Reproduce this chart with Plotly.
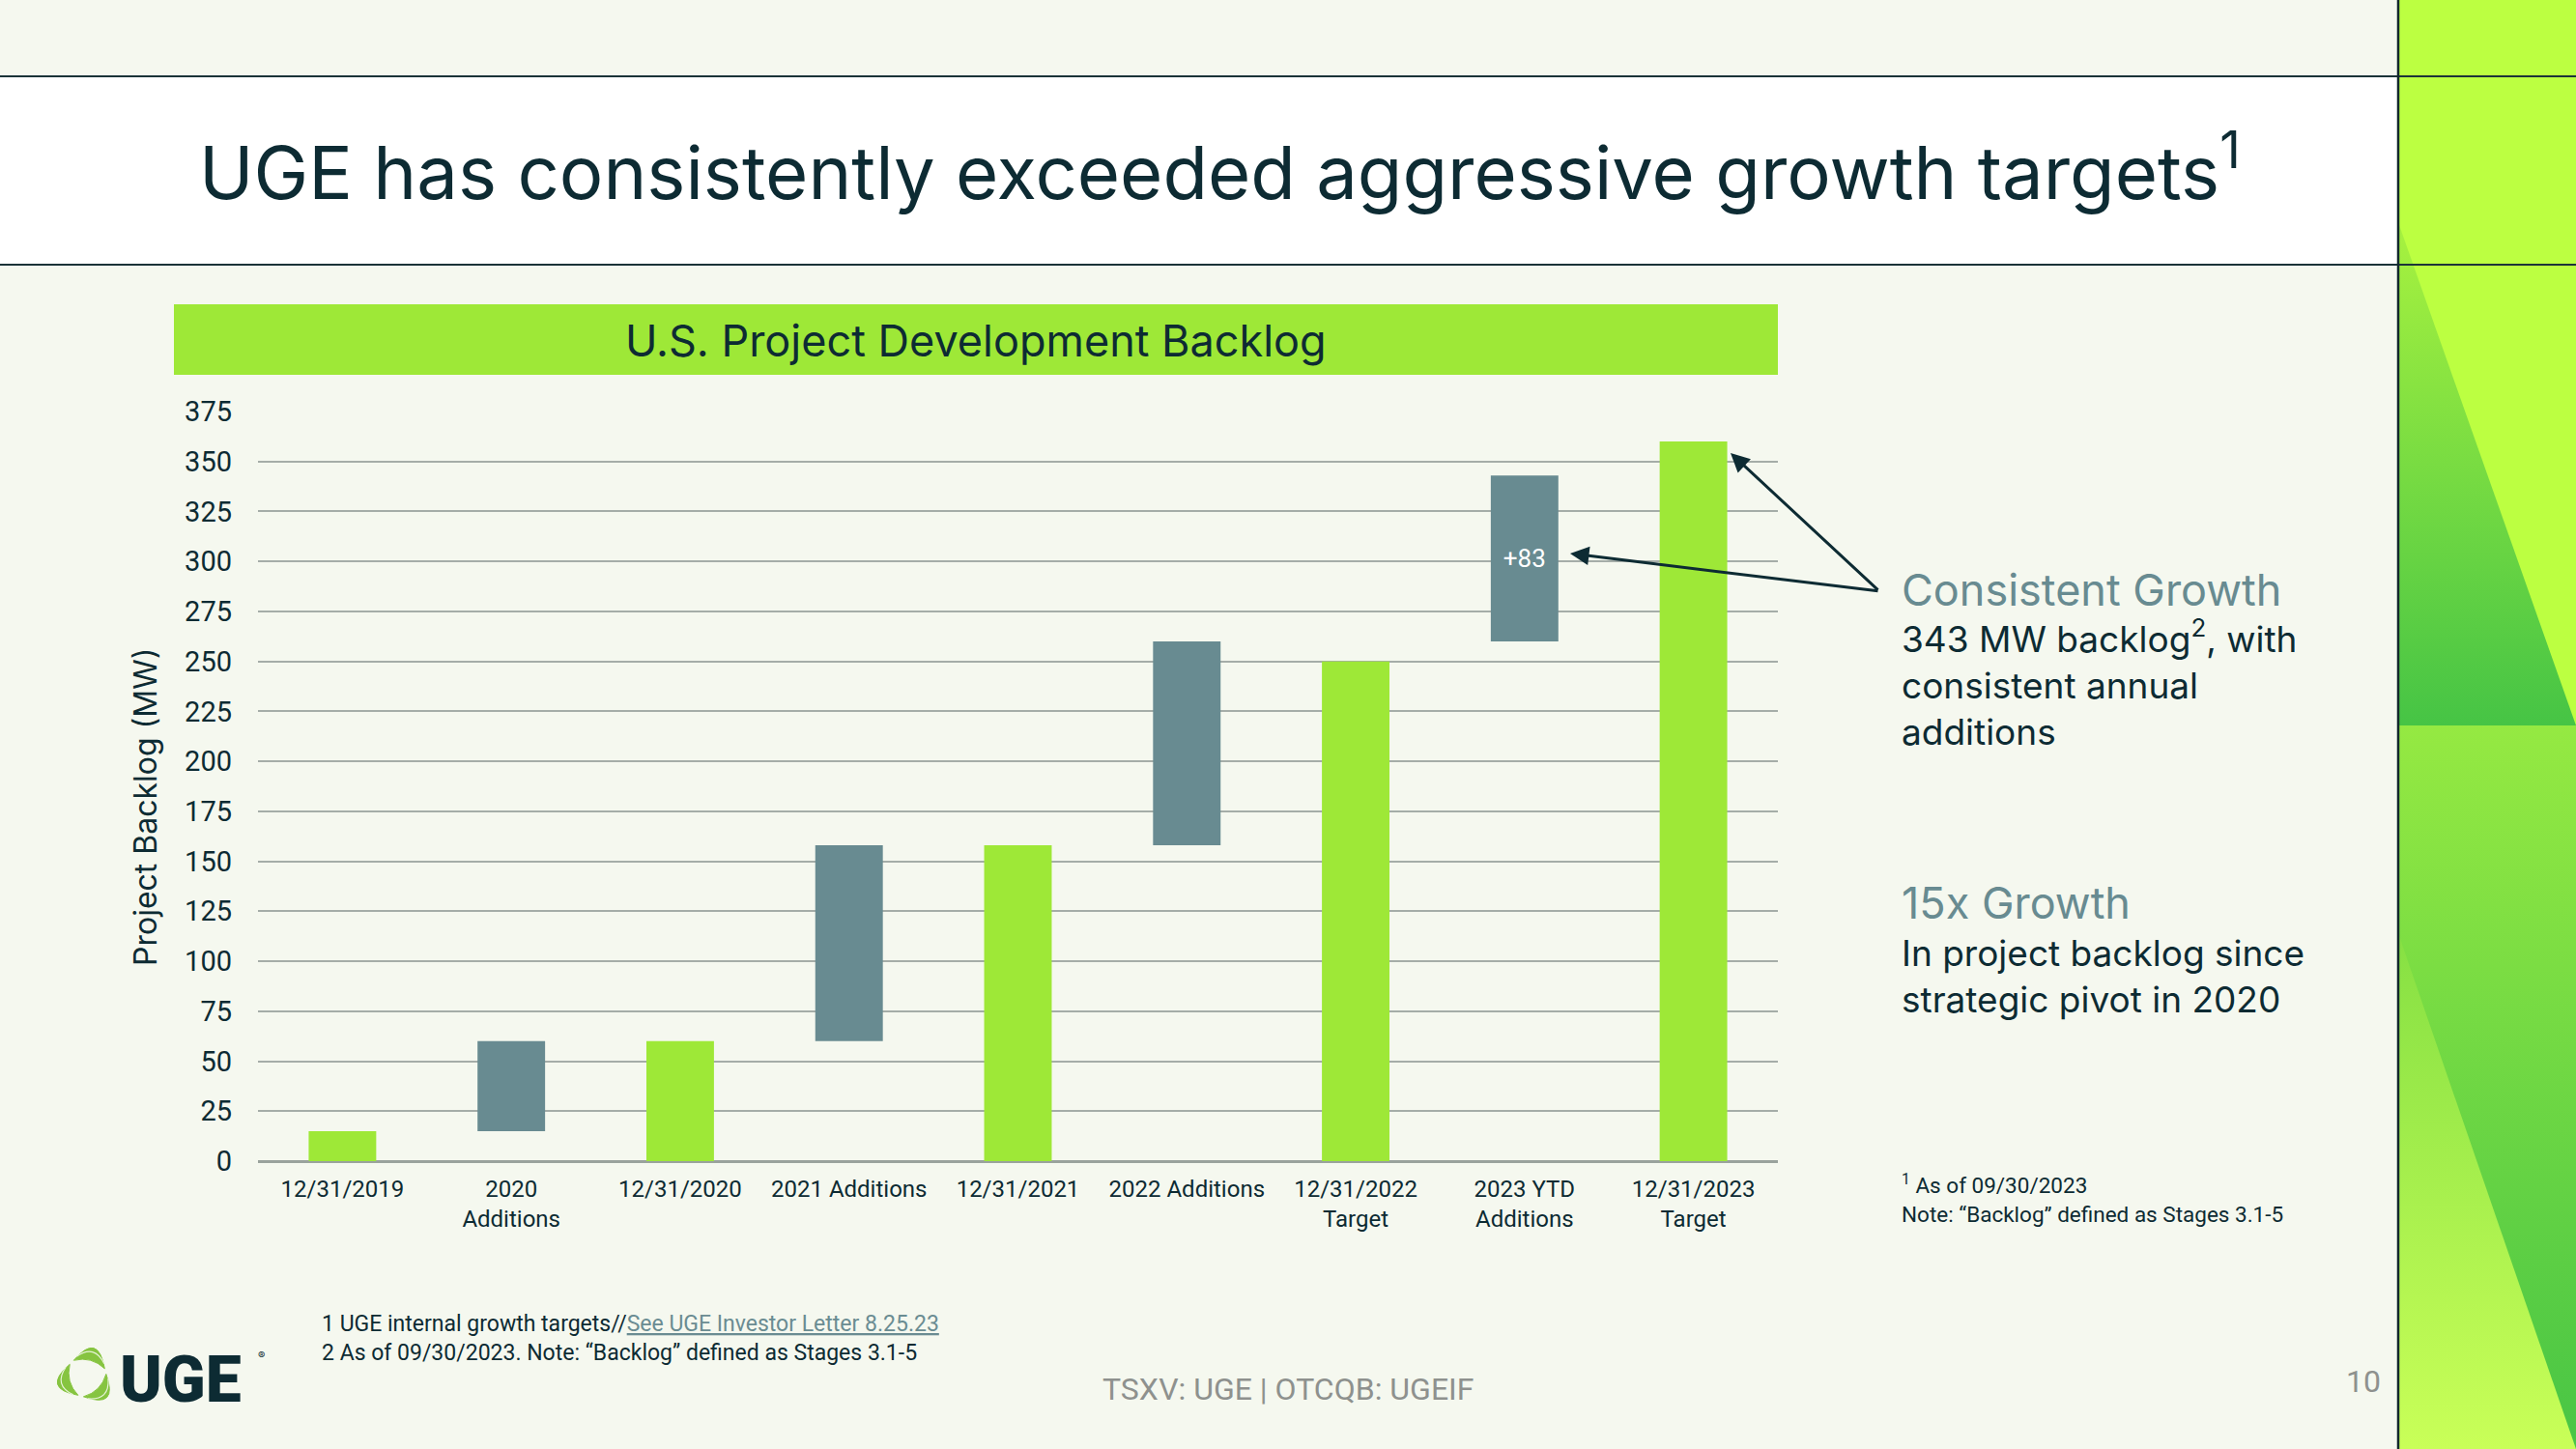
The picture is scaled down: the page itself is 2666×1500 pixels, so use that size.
import math
import plotly.graph_objects as go

W, H = 2666, 1500

# ---------------- data ----------------
categories = ["12/31/2019", "2020<br>Additions", "12/31/2020", "2021 Additions",
              "12/31/2021", "2022 Additions", "12/31/2022<br>Target",
              "2023 YTD<br>Additions", "12/31/2023<br>Target"]
total_cats = ["12/31/2019", "12/31/2020", "12/31/2021", "12/31/2022<br>Target", "12/31/2023<br>Target"]
total_vals = [15, 60, 158, 250, 360]
add_cats = ["2020<br>Additions", "2021 Additions", "2022 Additions", "2023 YTD<br>Additions"]
add_base = [15, 60, 158, 260]
add_vals = [45, 98, 102, 83]
add_text = ["", "", "", "+83"]
y_ticks = [0, 25, 50, 75, 100, 125, 150, 175, 200, 225, 250, 275, 300, 325, 350, 375]

# ---------------- styles ----------------
BG = "#F5F8EF"
DARK = "#0D2B33"
GREEN = "#9EE837"
SLATE = "#688B91"
GRAYTXT = "#8E918E"
FONT = "Inter"
FONT2 = "Roboto"

def PX(x):
    return x / W

def PY(y):
    return 1 - y / H

fig = go.Figure()

fig.add_trace(go.Bar(x=total_cats, y=total_vals, marker_color=GREEN, marker_line_width=0,
                     hoverinfo="skip", showlegend=False))
fig.add_trace(go.Bar(x=add_cats, y=add_vals, base=add_base, marker_color=SLATE, marker_line_width=0,
                     text=add_text, textposition="inside", insidetextanchor="middle", textangle=0,
                     textfont=dict(color="white", size=26, family=FONT2),
                     hoverinfo="skip", showlegend=False))

# ---------------- decorative right panel (pixel-coordinate overlay axes) ----------------
panel = [
    ([2482, 2666, 2666, 2482, 2482], [0, 0, 751, 751, 0], "#BCFF41", "#BCFF41", 0, 751),
    ([2482, 2666, 2482, 2482], [230, 751, 751, 230], "#A8F23F", "#46C445", 230, 751),
    ([2482, 2666, 2666, 2482, 2482], [751, 751, 1500, 1500, 751], "#95E942", "#48C545", 751, 1500),
    ([2482, 2666, 2482, 2482], [966, 1500, 1500, 966], "#86E043", "#C9FF58", 966, 1500),
]
for xs, ys, c0, c1, s0, s1 in panel:
    fig.add_trace(go.Scatter(x=xs, y=ys, xaxis="x2", yaxis="y2", mode="lines", line=dict(width=0),
                             fill="toself",
                             fillgradient=dict(type="vertical", colorscale=[[0, c0], [1, c1]],
                                               start=s0, stop=s1),
                             hoverinfo="skip", showlegend=False))

# ---------------- shapes ----------------
shapes = [
    dict(type="rect", xref="paper", yref="paper", x0=0, x1=PX(2482), y0=PY(274), y1=PY(79),
         fillcolor="white", line_width=0, layer="below"),
    dict(type="rect", xref="paper", yref="paper", x0=PX(180), x1=PX(1840), y0=PY(388), y1=PY(315),
         fillcolor=GREEN, line_width=0, layer="below"),
    dict(type="line", xref="paper", yref="paper", x0=0, x1=1, y0=PY(79), y1=PY(79),
         line=dict(color="#1B3338", width=2), layer="above"),
    dict(type="line", xref="paper", yref="paper", x0=0, x1=1, y0=PY(274), y1=PY(274),
         line=dict(color="#1B3338", width=2), layer="above"),
    dict(type="line", xref="paper", yref="paper", x0=PX(2482), x1=PX(2482), y0=0, y1=1,
         line=dict(color="#12282C", width=2.5), layer="above"),
]

# logo leaves
cx, cy = 89, 1425
def pt(rad, ang):
    return PX(cx + rad * math.cos(ang)), PY(cy - rad * math.sin(ang))

def leaf(mid_deg, span=52, r=21, rout=48, rin=22):
    a1 = math.radians(mid_deg - span)
    a2 = math.radians(mid_deg + span)
    am = math.radians(mid_deg)
    x1, y1 = pt(r, a1)
    x2, y2 = pt(r, a2)
    xo, yo = pt(rout, am)
    xi, yi = pt(rin, am)
    return f"M {x1},{y1} Q {xo},{yo} {x2},{y2} Q {xi},{yi} {x1},{y1} Z"

def vein(mid_deg, span=40, r=23, rc=35):
    a1 = math.radians(mid_deg - span)
    a2 = math.radians(mid_deg + span)
    am = math.radians(mid_deg)
    x1, y1 = pt(r, a1)
    x2, y2 = pt(r, a2)
    xc, yc = pt(rc, am)
    return f"M {x1},{y1} Q {xc},{yc} {x2},{y2}"

for md in [75, 195, 315]:
    shapes.append(dict(type="path", xref="paper", yref="paper", path=leaf(md),
                       fillcolor="#86C440", line=dict(color="#86C440", width=1), layer="above"))
    shapes.append(dict(type="path", xref="paper", yref="paper", path=vein(md),
                       line=dict(color="#E6F3D6", width=1.2), layer="above"))

# ---------------- annotations ----------------
ann = []
def txt(x, y, text, size, color=DARK, xanchor="left", family=FONT, weight=None, **kw):
    f = dict(size=size, color=color, family=family)
    if weight:
        f["weight"] = weight
    ann.append(dict(x=PX(x), y=PY(y), xref="paper", yref="paper", text=text, showarrow=False,
                    xanchor=xanchor, yanchor="middle", align="left" if xanchor == "left" else "center",
                    font=f, **kw))

txt(204, 173, "UGE has consistently exceeded aggressive growth targets<sup>1</sup>", 76)
txt(1010, 352, "U.S. Project Development Backlog", 45, xanchor="center")
ann.append(dict(x=PX(150), y=PY(836), xref="paper", yref="paper", text="Project Backlog (MW)",
                showarrow=False, textangle=-90, xanchor="center", yanchor="middle",
                font=dict(size=32, color=DARK, family=FONT)))
txt(1966, 610, "Consistent Growth", 45, color=SLATE)
txt(1966, 707, "343 MW backlog<sup>2</sup>, with<br>consistent annual<br>additions", 37)
txt(1966, 934, "15x Growth", 45, color=SLATE)
txt(1966, 1010, "In project backlog since<br>strategic pivot in 2020", 37)
txt(1966, 1240, "<sup>1</sup> As of 09/30/2023<br>Note: “Backlog” defined as Stages 3.1-5", 22.5, family=FONT2)
txt(331, 1385, "1 UGE internal growth targets//<span style='color:#6A8C92;text-decoration:underline'>See UGE Investor Letter 8.25.23</span>"
    "<br>2 As of 09/30/2023. Note: “Backlog” defined as Stages 3.1-5", 23, family=FONT2)
txt(1333, 1438, "TSXV: UGE | OTCQB: UGEIF", 32, color=GRAYTXT, xanchor="center", family=FONT2)
txt(2446, 1430, "10", 32, color=GRAYTXT, xanchor="center", family=FONT2)
txt(122, 1428, "UGE", 66, family="Roboto", weight=900)
txt(265, 1403, "®", 11)

# arrows
tail = (1945, 612)
for tip in [(1625, 573), (1791, 469)]:
    ann.append(dict(x=PX(tip[0]), y=PY(tip[1]), xref="paper", yref="paper", text="",
                    showarrow=True, ax=tail[0] - tip[0], ay=tail[1] - tip[1],
                    axref="pixel", ayref="pixel",
                    arrowhead=2, arrowsize=1.3, arrowwidth=3, arrowcolor=DARK, standoff=0))

fig.update_layout(
    width=W, height=H,
    margin=dict(l=0, r=0, t=0, b=0),
    paper_bgcolor=BG, plot_bgcolor="rgba(0,0,0,0)",
    barmode="overlay", bargap=0.6,
    shapes=shapes, annotations=ann,
    xaxis=dict(domain=[PX(267), PX(1840)], categoryorder="array", categoryarray=categories,
               showgrid=False, showline=False, zeroline=False, ticks="",
               tickfont=dict(size=24, color=DARK, family=FONT2), ticklabelstandoff=12,
               automargin=False, fixedrange=True),
    yaxis=dict(domain=[PY(1202), PY(426)], range=[0, 375], tickvals=y_ticks,
               showgrid=True, gridcolor="#A5ADA8", gridwidth=1.5,
               zeroline=True, zerolinecolor="#9AA39D", zerolinewidth=3,
               showline=False, ticks="", tickfont=dict(size=29, color=DARK, family=FONT2),
               ticklabelstandoff=26, automargin=False, fixedrange=True),
    xaxis2=dict(domain=[0, 1], range=[0, W], anchor="y2", visible=False, fixedrange=True),
    yaxis2=dict(domain=[0, 1], range=[H, 0], anchor="x2", visible=False, fixedrange=True),
)

fig.write_html("out.html", config={"displayModeBar": False},
               post_script="document.body.style.margin='0px';document.body.style.overflow='hidden';")
